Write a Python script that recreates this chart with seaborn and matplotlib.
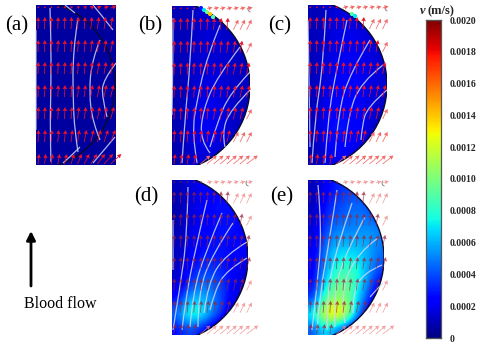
import numpy as np
import matplotlib
matplotlib.use("Agg")
import matplotlib.pyplot as plt
from matplotlib.patches import Arc, Circle, PathPatch
from matplotlib.path import Path
import seaborn as sns

# --- values, speeds in 1e-4 m/s ---
GRID_A = [[0.6, 0.6, 0.6, 0.6], [0.6, 0.6, 0.6, 0.6], [0.6, 0.6, 0.6, 0.6]]
GRID_B = [[1, 1, 1.5, 1.5, 1, 1, 1],
          [1, 1, 1.5, 1.5, 1.5, 1, 1],
          [1, 1.2, 1.5, 1.5, 1.5, 1.2, 1],
          [0.8, 1.2, 1.5, 1.7, 1.5, 1.3, 1.2],
          [0.8, 1.3, 1.7, 1.8, 1.6, 1.3, 1.2],
          [0.8, 1.4, 1.8, 2, 1.7, 1.3, 1],
          [0.8, 1.5, 2, 2.1, 1.8, 1.3, 1],
          [0.8, 1.6, 2.1, 2.1, 1.7, 1.2, 1],
          [0.7, 1.2, 1.5, 1.4, 1.2, 1, 1]]
GRID_C = [[1, 1.2, 1.7, 1.7, 1.5, 1.2, 1],
          [1, 1.3, 1.8, 1.9, 1.8, 1.5, 1.2],
          [1, 1.5, 1.9, 2, 2, 1.7, 1.4],
          [1, 1.6, 2, 2.2, 2.1, 1.8, 1.5],
          [1, 1.7, 2.2, 2.4, 2.2, 1.8, 1.5],
          [1, 1.9, 2.4, 2.6, 2.2, 1.7, 1.3],
          [1, 2.1, 2.8, 2.8, 2.3, 1.6, 1.2],
          [1, 2.3, 3.1, 2.8, 2.1, 1.4, 1],
          [0.8, 1.5, 2, 1.8, 1.3, 1, 1]]
GRID_D = [[1, 1.5, 2, 2.5, 2.5, 2, 1],
          [0.8, 1.5, 2, 2.5, 2.8, 2.5, 2],
          [0.8, 1.5, 2, 2.5, 2.8, 2.8, 2.5],
          [0.8, 1.6, 2.2, 2.6, 2.8, 2.8, 2.5],
          [1, 1.8, 2.3, 2.8, 2.8, 2.5, 2.2],
          [1, 2, 2.8, 3, 2.8, 2.5, 2],
          [1.2, 2.5, 3.5, 3.8, 3.2, 2.5, 1.5],
          [1.5, 3.5, 4.8, 4.8, 3.8, 2.5, 1.5],
          [2.5, 6, 6.5, 5.5, 4, 2, 1],
          [5, 8.5, 8.5, 6, 3.5, 1.5, 0.5],
          [2.5, 4, 3, 1.5, 0.5, 0.5, 0.5]]
GRID_E = [[1, 2, 3, 3.5, 4, 3, 2],
          [1, 2.5, 3.5, 4, 4.5, 4, 3],
          [1, 3, 4, 4.5, 5, 4.5, 4],
          [1.5, 3.5, 5, 5, 5, 5.5, 5],
          [1.5, 4.5, 6, 6, 6, 6, 5],
          [2, 5, 7, 7.5, 7, 6, 4.5],
          [2, 5.5, 8, 8.5, 8, 6, 3.5],
          [2.5, 7, 9.5, 10, 8, 5, 2],
          [3.5, 9, 10.5, 10, 7, 3.5, 1],
          [8, 13, 15, 13, 6, 2, 0.5],
          [4, 7, 5, 3, 1, 0.5, 0.5]]

# streamlines, picture pixels
LINES_A = [[(36, 30), (36, 80), (36, 130)],
           [(50, 8), (51, 40), (51, 85), (50, 130), (51, 162)],
           [(65, 5), (70, 9), (75, 13)],
           [(78, 18), (73, 50), (73, 100), (75, 133), (78, 152)],
           [(93, 5), (103, 17), (113, 30)],
           [(100, 40), (92, 60), (89, 93), (93, 123), (100, 140)],
           [(116, 63), (103, 80), (102, 97), (107, 117)],
           [(63, 163), (72, 155), (80, 147)],
           [(93, 163), (104, 150), (115, 137)]]
LINES_B = [[(173, 18), (173, 60), (172, 115)],
           [(193, 10), (190, 67), (185, 117), (182, 163)],
           [(220, 25), (207, 57), (197, 100), (192, 133), (197, 163)],
           [(240, 47), (217, 77), (203, 110), (200, 140), (210, 153)],
           [(250, 72), (230, 93), (217, 123), (210, 147)],
           [(250, 90), (230, 110), (222, 133), (225, 147)]]
LINES_C = [[(308, 20), (309, 80), (310, 147)],
           [(326, 10), (323, 67), (315, 117), (312, 163)],
           [(347, 20), (337, 67), (328, 117), (325, 163)],
           [(370, 40), (350, 73), (338, 113), (335, 157)],
           [(383, 65), (360, 83), (348, 117), (345, 147)],
           [(387, 90), (367, 107), (362, 127), (361, 140)]]
LINES_D = [[(173, 220), (173, 245), (173, 270)],
           [(188, 187), (187, 237), (180, 287), (173, 330)],
           [(207, 200), (195, 250), (185, 303), (182, 330)],
           [(222, 213), (205, 253), (193, 293), (190, 327)],
           [(233, 223), (213, 253), (198, 293), (198, 327)],
           [(247, 242), (225, 255), (208, 283), (204, 313)],
           [(247, 258), (227, 270), (215, 290), (210, 310)]]
LINES_E = [[(318, 185), (322, 230), (317, 287), (312, 330)],
           [(337, 190), (330, 237), (320, 293), (317, 330)],
           [(352, 203), (337, 247), (327, 293), (327, 330)],
           [(365, 217), (347, 250), (333, 293), (335, 327)],
           [(378, 238), (357, 253), (340, 293), (345, 323)],
           [(382, 265), (363, 273), (353, 293), (353, 313)],
           [(383, 283), (376, 290), (370, 297)]]

# arrow rows: head heights from the panel top, length and sideways lean of each row
ROW_OFFSET = [1, 12, 35, 57, 80, 102, 125, 149]
ROW_LENGTH = [2, 12, 12, 12, 12, 12, 12, 10]
ROW_LEAN = [6, 2, 2.5, 2.5, 3, 3.5, 5, 11]
COL_STEP = 6.6

# panel name, grid, box x0 x1 y0 y1, circle centre x y, radius
PANELS = [("(a)", GRID_A, LINES_A, (36, 116, 5, 165), (30, 85, 85), (5, 26)),
          ("(b)", GRID_B, LINES_B, (172, 250, 6, 165), (164, 86, 86), (138, 26)),
          ("(c)", GRID_C, LINES_C, (308, 387, 5, 165), (301, 85, 86), (268, 26)),
          ("(d)", GRID_D, LINES_D, (172, 248, 180, 335), (164, 258, 84), (134, 197)),
          ("(e)", GRID_E, LINES_E, (308, 384, 180, 335), (300, 258, 84), (270, 197))]

# small hot spots on the rim of (b) and (c)
SPOT_X = [201, 204, 207, 210, 213, 352, 355]
SPOT_Y = [8, 10, 12, 14, 17, 14, 16]
SPOT_V = [3, 7, 10, 14, 9, 9, 7]

CBAR_TICKS = [0, 2, 4, 6, 8, 10, 12, 14, 16, 18, 20]
CBAR_LABELS = ["0", "0.0002", "0.0004", "0.0006", "0.0008", "0.0010",
               "0.0012", "0.0014", "0.0016", "0.0018", "0.0020"]

W, H = 480, 345
SERIF = "Liberation Serif"


def smooth_line(points):
    """Curved path with the read points as control points."""
    verts = [points[0]]
    codes = [Path.MOVETO]
    for p, q in zip(points[1:-2], points[2:-1]):
        verts += [p, ((p[0] + q[0]) / 2, (p[1] + q[1]) / 2)]
        codes += [Path.CURVE3, Path.CURVE3]
    verts += [points[-2], points[-1]]
    codes += [Path.CURVE3, Path.CURVE3]
    return Path(verts, codes)


def draw_panel(ax, label, grid, lines, box, circle, label_pos):
    x0, x1, y0, y1 = box
    cx, cy, r = circle
    is_a = label == "(a)"
    is_late = label in ("(d)", "(e)")

    im = ax.imshow(np.array(grid), cmap="jet", vmin=0, vmax=20, aspect="auto",
                   extent=(x0, x1, y1, y0), interpolation="bicubic", zorder=1)
    if not is_a:
        im.set_clip_path(Circle((cx, cy), r, transform=ax.transData))

    # rim of the vessel
    rim = Arc((cx, cy), 2 * r, 2 * r, theta1=-72, theta2=72, color="#0a0a30",
              lw=1.0, zorder=2)
    ax.add_patch(rim)
    rim.set_clip_path(plt.Rectangle((x0, y0), x1 - x0, y1 - y0, transform=ax.transData))

    for line in lines:
        ax.add_patch(PathPatch(smooth_line(line), fill=False, edgecolor="#cfd6f4",
                               lw=0.9, alpha=0.85, zorder=3))

    # velocity arrows
    xs = np.arange(x0 + 2, x1, COL_STEP)
    scale = (y1 - y0) / 160
    for off, length, lean in zip(ROW_OFFSET, ROW_LENGTH, ROW_LEAN):
        y = np.full(len(xs), y0 + (off + length) * scale)
        inside = (xs - cx) ** 2 + (y - cy) ** 2 < r ** 2
        if is_a:
            inside[:] = True
        frac = (xs - x0) / (x1 - x0)
        u = lean * (0.1 + frac ** 2)
        v = np.full(len(xs), -float(length))
        u[~inside] = np.maximum(u[~inside], max(5, 0.9 * lean))
        v[~inside] *= 0.85
        if is_late:
            colors = np.where(inside, "#9c2338", "#ee8484")
            alpha = 0.75
        else:
            colors = np.where(inside, "#e8122a", "#f26a6a")
            alpha = 1.0
        ax.quiver(xs, y, u, v, color=colors.tolist(), angles="xy", scale_units="xy",
                  scale=1, units="xy", width=0.75, headwidth=6, headlength=5.5,
                  headaxislength=5, alpha=alpha, zorder=4)

    ax.text(label_pos[0], label_pos[1], label, family=SERIF, fontsize=15, va="center",
            ha="left", color="black")

    # little grey mark at the top right corner of the curved panels
    if not is_a:
        ax.add_patch(Arc((x1 + 1, y0 + 3), 6, 6, theta1=100, theta2=230, color="#888888", lw=0.7))


def main():
    sns.set_theme(style="white")
    plt.rcParams["font.family"] = [SERIF, "DejaVu Serif"]

    fig = plt.figure(figsize=(W / 100, H / 100), dpi=100)
    ax = fig.add_axes([0, 0, 1, 1])

    for label, grid, lines, box, circle, label_pos in PANELS:
        draw_panel(ax, label, grid, lines, box, circle, label_pos)

    ax.scatter(SPOT_X, SPOT_Y, c=SPOT_V, cmap="jet", vmin=0, vmax=20, s=9,
               linewidths=0, zorder=5)

    # blood flow arrow
    ax.annotate("", xy=(31, 231), xytext=(31, 286),
                arrowprops=dict(arrowstyle="-|>", color="black", lw=2, mutation_scale=13,
                                shrinkA=0, shrinkB=0))
    ax.text(24, 304, "Blood flow", family=SERIF, fontsize=11.5, va="center", ha="left",
            color="black")

    ax.set_xlim(0, W)
    ax.set_ylim(H, 0)
    ax.axis("off")

    # colour bar, a heatmap of the whole speed range
    cax = fig.add_axes([426 / W, 1 - 338 / H, 15 / W, 318 / H])
    n = 256
    ramp = np.linspace(20, 0, n).reshape(-1, 1)
    sns.heatmap(ramp, ax=cax, cmap="jet", vmin=0, vmax=20, cbar=False,
                xticklabels=False, yticklabels=False)
    cax.set_yticks([(20 - t) / 20 * n for t in CBAR_TICKS])
    cax.set_yticklabels(CBAR_LABELS, family=SERIF, fontsize=7, fontweight="bold",
                        rotation=0, ha="right")
    cax.yaxis.tick_right()
    cax.tick_params(axis="y", direction="in", left=True, right=True, length=3.5, width=0.8,
                    color="black", pad=6, labelright=True, labelleft=False)
    for lab in cax.get_yticklabels():
        lab.set_ha("left")
    for spine in cax.spines.values():
        spine.set_visible(True)
        spine.set_color("#555555")
        spine.set_linewidth(0.9)

    fig.text(420 / W, 1 - 11 / H, "v", family=SERIF, fontsize=9, fontweight="bold",
             fontstyle="italic", va="center", ha="left")
    fig.text(428 / W, 1 - 11 / H, "(m/s)", family=SERIF, fontsize=9, fontweight="bold",
             va="center", ha="left")

    fig.savefig("out.png", dpi=100)


if __name__ == "__main__":
    main()
